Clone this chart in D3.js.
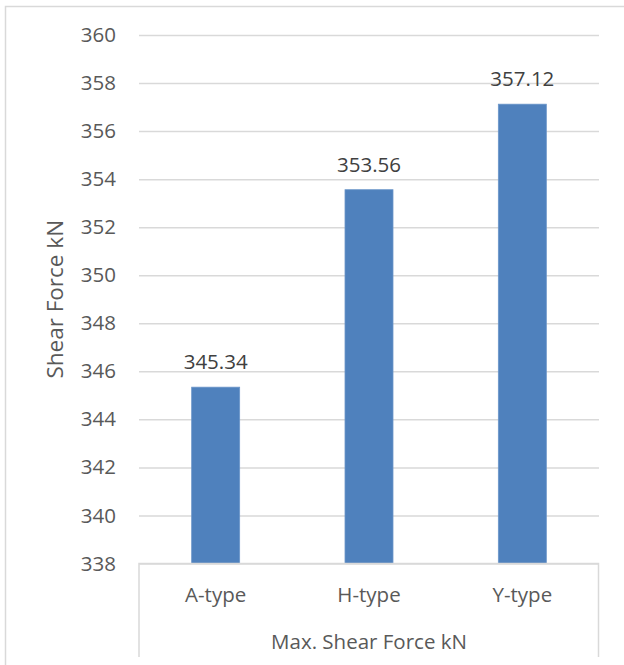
<!DOCTYPE html>
<html>
<head>
<meta charset="utf-8">
<script src="https://cdn.jsdelivr.net/npm/d3@7"></script>
<style>
  html, body { margin: 0; padding: 0; background: #fff; }
  svg { display: block; font-family: "Open Sans", "Noto Sans", sans-serif; }
</style>
</head>
<body>
<svg id="chart" width="624" height="665"></svg>
<script>
// Chart data
const categories = ["A-type", "H-type", "Y-type"];
const shearForce = [345.34, 353.56, 357.12];
const yTicks = [338, 340, 342, 344, 346, 348, 350, 352, 354, 356, 358, 360];
const groupLabel = "Max. Shear Force kN";
const yTitle = "Shear Force kN";

const svg = d3.select("#chart");
const plot = { left: 139, right: 599, top: 35, bottom: 563.5 };

const x = d3.scaleBand()
  .domain(categories)
  .range([plot.left, plot.right])
  .paddingInner(0.687)
  .paddingOuter(0.3435);

const y = d3.scaleLinear()
  .domain([338, 360])
  .range([plot.bottom, plot.top]);

const gridColor = "#d9d9d9";
const textColor = "#595959";

// Chart area border (left and top edges are visible)
svg.append("path")
  .attr("d", "M5.5,665 L5.5,6.5 L624,6.5")
  .attr("fill", "none")
  .attr("stroke", gridColor)
  .attr("stroke-width", 1.5);

// Horizontal gridlines and tick labels via the axis generator
const yAxis = d3.axisLeft(y)
  .tickValues(yTicks)
  .tickSize(-(plot.right - plot.left))
  .tickPadding(23)
  .tickFormat(d3.format("d"));

const gy = svg.append("g")
  .attr("transform", `translate(${plot.left},0)`)
  .call(yAxis);
gy.select(".domain").remove();
gy.selectAll(".tick line")
  .attr("stroke", gridColor)
  .attr("stroke-width", 1.5);
gy.selectAll(".tick text")
  .attr("fill", textColor)
  .attr("font-size", "20.5px")
  .attr("font-family", "\"Open Sans\", sans-serif");

// Bars
svg.append("g")
  .selectAll("rect")
  .data(categories)
  .join("rect")
  .attr("x", d => x(d))
  .attr("width", x.bandwidth())
  .attr("y", (d, i) => y(shearForce[i]))
  .attr("height", (d, i) => y(338) - y(shearForce[i]))
  .attr("fill", "#4f81bd")
  .attr("stroke", "#6b95c9")
  .attr("stroke-width", 0.8);

// Value labels above bars
svg.append("g")
  .selectAll("text")
  .data(categories)
  .join("text")
  .attr("x", d => x(d) + x.bandwidth() / 2)
  .attr("y", (d, i) => y(shearForce[i]) - 18)
  .attr("text-anchor", "middle")
  .attr("fill", "#404040")
  .attr("font-size", "20.5px")
  .text((d, i) => shearForce[i].toFixed(2));

// Multi-level category axis box
svg.append("path")
  .attr("d", `M${plot.left},657 L${plot.left},${plot.bottom} L${plot.right - 0.5},${plot.bottom} L${plot.right - 0.5},657`)
  .attr("fill", "none")
  .attr("stroke", gridColor)
  .attr("stroke-width", 1.5);

svg.append("g")
  .selectAll("text")
  .data(categories)
  .join("text")
  .attr("x", d => x(d) + x.bandwidth() / 2)
  .attr("y", 602)
  .attr("text-anchor", "middle")
  .attr("fill", textColor)
  .attr("font-size", "20.5px")
  .text(d => d);

svg.append("text")
  .attr("x", (plot.left + plot.right) / 2)
  .attr("y", 649)
  .attr("text-anchor", "middle")
  .attr("fill", textColor)
  .attr("font-size", "20.5px")
  .text(groupLabel);

// Y axis title
svg.append("text")
  .attr("transform", `translate(63,${(plot.top + plot.bottom) / 2}) rotate(-90)`)
  .attr("text-anchor", "middle")
  .attr("fill", textColor)
  .attr("font-size", "22.5px")
  .text(yTitle);
</script>
</body>
</html>
